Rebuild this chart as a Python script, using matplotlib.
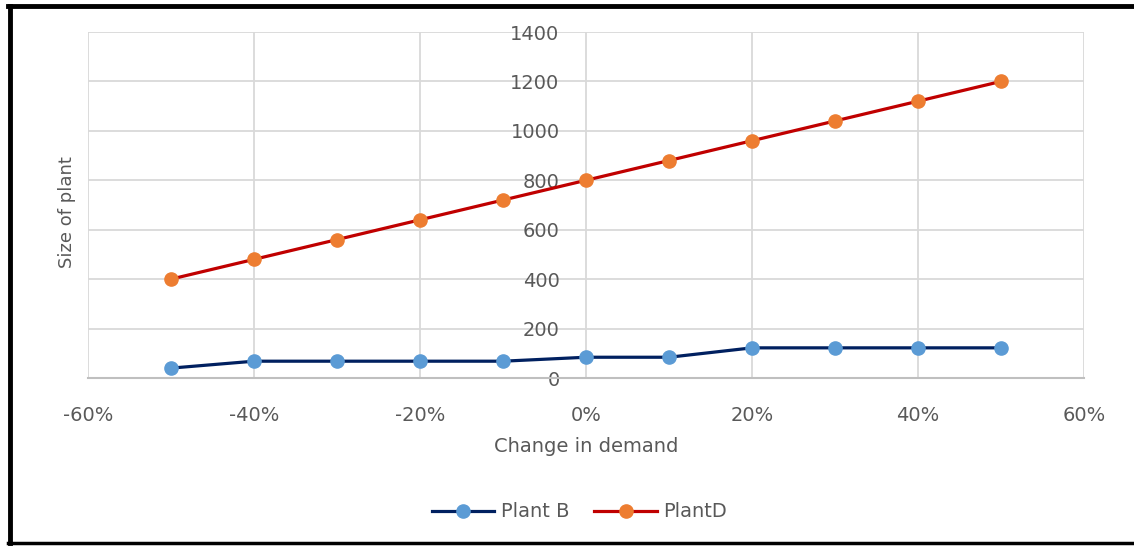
import matplotlib.pyplot as plt
from matplotlib.lines import Line2D
from matplotlib.ticker import PercentFormatter

# change in demand (fraction) and plant sizes
demand_change = [-0.5, -0.4, -0.3, -0.2, -0.1, 0.0, 0.1, 0.2, 0.3, 0.4, 0.5]
plant_b = [40, 68, 68, 68, 68, 84, 84, 122, 122, 122, 122]
plant_d = [400, 480, 560, 640, 720, 800, 880, 960, 1040, 1120, 1200]

x_ticks = [-0.6, -0.4, -0.2, 0.0, 0.2, 0.4, 0.6]
y_ticks = [0, 200, 400, 600, 800, 1000, 1200, 1400]

text_col = "#595959"
grid_col = "#D9D9D9"

plt.rcParams["axes.unicode_minus"] = False

fig = plt.figure(figsize=(11.34, 5.47), dpi=100)
ax = fig.add_axes([88 / 1134, 1 - 378 / 547, 996 / 1134, 346 / 547])

ax.plot(demand_change, plant_b, color="#002060", linewidth=2.3, marker="o",
        markersize=9.5, markerfacecolor="#5B9BD5", markeredgecolor="#5B9BD5",
        label="Plant B", zorder=3)
ax.plot(demand_change, plant_d, color="#C00000", linewidth=2.3, marker="o",
        markersize=9.5, markerfacecolor="#ED7D31", markeredgecolor="#ED7D31",
        label="PlantD", zorder=3)

ax.set_xlim(-0.6, 0.6)
ax.set_ylim(0, 1400)
ax.set_xticks(x_ticks)
ax.set_yticks(y_ticks)
ax.xaxis.set_major_formatter(PercentFormatter(1.0, decimals=0))

ax.grid(True, color=grid_col, linewidth=1.3, zorder=0)
ax.set_axisbelow(True)
for s in ["top", "right", "left"]:
    ax.spines[s].set_visible(False)
ax.spines["bottom"].set_color("#BFBFBF")
ax.spines["bottom"].set_linewidth(1.5)
ax.spines["left"].set_position(("data", 0))

ax.tick_params(axis="both", length=0, labelsize=14, labelcolor=text_col)
ax.tick_params(axis="y", pad=19)
ax.tick_params(axis="x", pad=20)

ax.set_xlabel("Change in demand", fontsize=14, color=text_col)
ax.xaxis.set_label_coords(0.5, -0.17)
ax.set_ylabel("Size of plant", fontsize=13, color=text_col)
ax.yaxis.set_label_coords(-0.012, 0.48)

fig.legend(loc="center", bbox_to_anchor=(0.511, 0.064), ncol=2, frameon=False,
           fontsize=14, labelcolor=text_col, handlelength=3.2,
           handletextpad=0.35, columnspacing=1.3)

# black frame around the picture (open on the right)
fig.add_artist(Line2D([8 / 1134, 1], [1 - 6 / 547, 1 - 6 / 547], color="black", linewidth=3.5))
fig.add_artist(Line2D([10 / 1134, 10 / 1134], [1 - 6 / 547, 1 - 543 / 547], color="black", linewidth=3.5))
fig.add_artist(Line2D([8 / 1134, 1], [1 - 543 / 547, 1 - 543 / 547], color="black", linewidth=2.5))

fig.savefig("out.png", dpi=100)
